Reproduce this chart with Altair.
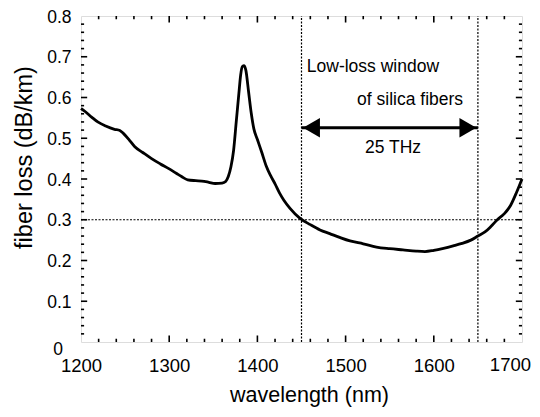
import altair as alt
import pandas as pd

# ---- data ----
wavelength = [1200, 1205, 1212, 1219, 1228, 1238, 1244, 1248, 1255, 1261, 1270, 1280,
              1290, 1299, 1308, 1314, 1321, 1330, 1337, 1345, 1352, 1360, 1364, 1367,
              1370, 1373, 1376, 1379, 1381, 1383, 1385, 1387, 1390, 1393, 1396, 1400,
              1405, 1410, 1415, 1420, 1425, 1430, 1437, 1448, 1460, 1471, 1482, 1494,
              1505, 1520, 1535, 1550, 1565, 1580, 1590, 1600, 1611, 1622, 1632, 1642,
              1650, 1658, 1665, 1672, 1680, 1687, 1694, 1700]
loss = [0.573, 0.565, 0.552, 0.540, 0.530, 0.522, 0.519, 0.512, 0.495, 0.479, 0.465, 0.450,
        0.437, 0.426, 0.414, 0.406, 0.398, 0.396, 0.395, 0.392, 0.389, 0.390, 0.394, 0.406,
        0.430, 0.470, 0.540, 0.610, 0.655, 0.676, 0.678, 0.666, 0.614, 0.562, 0.523, 0.497,
        0.465, 0.432, 0.408, 0.388, 0.366, 0.348, 0.328, 0.304, 0.288, 0.275, 0.266, 0.256,
        0.248, 0.241, 0.233, 0.229, 0.226, 0.223, 0.222, 0.225, 0.230, 0.236, 0.242, 0.250,
        0.260, 0.270, 0.284, 0.300, 0.315, 0.335, 0.368, 0.400]

x_tick_values = [1200, 1300, 1400, 1500, 1600]   # 1700 drawn separately (edge label)
x_last_tick = [1700]
y_tick_values = [0.1, 0.2, 0.3, 0.4, 0.5, 0.6, 0.7, 0.8]

window_edges = [1450, 1650]
threshold_loss = [0.3]
arrow_level = 0.526

ann_text = ["Low-loss window", "of silica fibers", "25 THz"]
ann_x = [1456, 1513, 1522]
ann_y = [0.663, 0.581, 0.463]

FONT = "Liberation Sans, Arial, Helvetica, sans-serif"

xs = alt.Scale(domain=[1200, 1700], nice=False, zero=False)
ys = alt.Scale(domain=[0, 0.8], nice=False)

curve_df = pd.DataFrame({"wl": wavelength, "loss": loss})

X = alt.X("wl:Q", scale=xs,
          axis=alt.Axis(values=x_tick_values, format="d", title="wavelength (nm)",
                        ticks=False, domain=False, grid=False, labelFlush=False,
                        labelAlign="center", labelOverlap=False,
                        labelFontSize=18.5, labelPadding=14, labelFont=FONT, labelColor="black",
                        titleFont=FONT, titleFontSize=21.5, titleFontWeight="normal",
                        titleColor="black", titleX=228, titleY=59,
                        titleBaseline="alphabetic", titleAlign="center"))
Y = alt.Y("loss:Q", scale=ys,
          axis=alt.Axis(values=y_tick_values, format=".1f", title="fiber loss (dB/km)",
                        ticks=False, domain=False, grid=False, labelFlush=False,
                        labelOverlap=False,
                        labelFontSize=17.5, labelPadding=10, labelFont=FONT, labelColor="black",
                        labelOffset=1,
                        titleFont=FONT, titleFontSize=23.5, titleFontWeight="normal",
                        titleColor="black", titleX=-50, titleY=141,
                        titleBaseline="alphabetic", titleAlign="center", titleAngle=-90))

curve = alt.Chart(curve_df).mark_line(color="black", strokeWidth=2.8,
                                      interpolate="monotone").encode(x=X, y=Y)

# tick marks (inward, mirrored on all four sides)
def ticks_df(start, stop, step, major_step):
    vals, kinds = [], []
    v = start
    while v <= stop + 1e-9:
        vals.append(round(v, 4))
        kinds.append("major" if abs(round(v / major_step) * major_step - v) < 1e-6 else "minor")
        v += step
    return pd.DataFrame({"t": vals, "kind": kinds})

xt = ticks_df(1220, 1680, 20, 100)
yt = ticks_df(0.02, 0.78, 0.02, 0.1)
xt_major = xt[xt.kind == "major"]
xt_minor = xt[xt.kind == "minor"]
yt_major = yt[yt.kind == "major"]
yt_minor = yt[yt.kind == "minor"]

tick_layers = []
for df, ylen in [(xt_major, 0.016), (xt_minor, 0.008)]:
    tick_layers.append(alt.Chart(df).mark_rule(color="black", strokeWidth=1.6).encode(
        x=alt.X("t:Q", scale=xs), y=alt.datum(0), y2=alt.datum(ylen)))
    tick_layers.append(alt.Chart(df).mark_rule(color="black", strokeWidth=1.6).encode(
        x=alt.X("t:Q", scale=xs), y=alt.datum(0.8), y2=alt.datum(0.8 - ylen)))
for df, xlen in [(yt_major, 7), (yt_minor, 3.5)]:
    tick_layers.append(alt.Chart(df).mark_rule(color="black", strokeWidth=1.6).encode(
        y=alt.Y("t:Q", scale=ys), x=alt.datum(1200), x2=alt.datum(1200 + xlen)))
    tick_layers.append(alt.Chart(df).mark_rule(color="black", strokeWidth=1.6).encode(
        y=alt.Y("t:Q", scale=ys), x=alt.datum(1700), x2=alt.datum(1700 - xlen)))

vlines = alt.Chart(pd.DataFrame({"x": window_edges})).mark_rule(
    color="black", strokeWidth=1.2, strokeDash=[2, 1.5]).encode(
    x=alt.X("x:Q", scale=xs), y=alt.datum(0), y2=alt.datum(0.8))
hline = alt.Chart(pd.DataFrame({"y": threshold_loss})).mark_rule(
    color="black", strokeWidth=1.2, strokeDash=[2, 1.5]).encode(
    y=alt.Y("y:Q", scale=ys), x=alt.datum(1200), x2=alt.datum(1700))

arrow_line = alt.Chart(pd.DataFrame({"a": [window_edges[0]], "b": [window_edges[1]],
                                     "y": [arrow_level]})).mark_rule(
    color="black", strokeWidth=3).encode(
    x=alt.X("a:Q", scale=xs), x2="b:Q", y=alt.Y("y:Q", scale=ys))
head_l = alt.Chart(pd.DataFrame({"x": [window_edges[0]], "y": [arrow_level]})).mark_point(
    shape="triangle-left", filled=True, color="black", size=380, opacity=1, xOffset=10).encode(
    x=alt.X("x:Q", scale=xs), y=alt.Y("y:Q", scale=ys))
head_r = alt.Chart(pd.DataFrame({"x": [window_edges[1]], "y": [arrow_level]})).mark_point(
    shape="triangle-right", filled=True, color="black", size=380, opacity=1, xOffset=-10).encode(
    x=alt.X("x:Q", scale=xs), y=alt.Y("y:Q", scale=ys))

ann = alt.Chart(pd.DataFrame({"text": ann_text, "x": ann_x, "y": ann_y})).mark_text(
    align="left", baseline="alphabetic", font=FONT, fontSize=17.5, color="black").encode(
    x=alt.X("x:Q", scale=xs), y=alt.Y("y:Q", scale=ys), text="text:N")

zero_label = alt.Chart(pd.DataFrame({"x": [1200], "y": [0], "text": ["0"]})).mark_text(
    align="right", baseline="middle", font=FONT, fontSize=17.5, color="black", dx=-18, dy=8).encode(
    x=alt.X("x:Q", scale=xs), y=alt.Y("y:Q", scale=ys), text="text:N")

last_x_label = alt.Chart(pd.DataFrame({"x": x_last_tick, "y": [0],
                                       "text": [str(v) for v in x_last_tick]})).mark_text(
    align="right", baseline="top", font=FONT, fontSize=18.5, color="black", dx=9, dy=14).encode(
    x=alt.X("x:Q", scale=xs), y=alt.Y("y:Q", scale=ys), text="text:N")

chart = alt.layer(vlines, hline, *tick_layers, arrow_line, head_l, head_r, ann, zero_label,
                  last_x_label, curve).properties(
    width=441, height=326,
    autosize=alt.AutoSizeParams(type="none"),
    padding={"left": 73, "top": 8, "right": 10, "bottom": 66},
).configure_view(stroke="black", strokeWidth=2.5).configure(background="white")

chart.save("out.html", embed_options={"renderer": "svg", "actions": False})
